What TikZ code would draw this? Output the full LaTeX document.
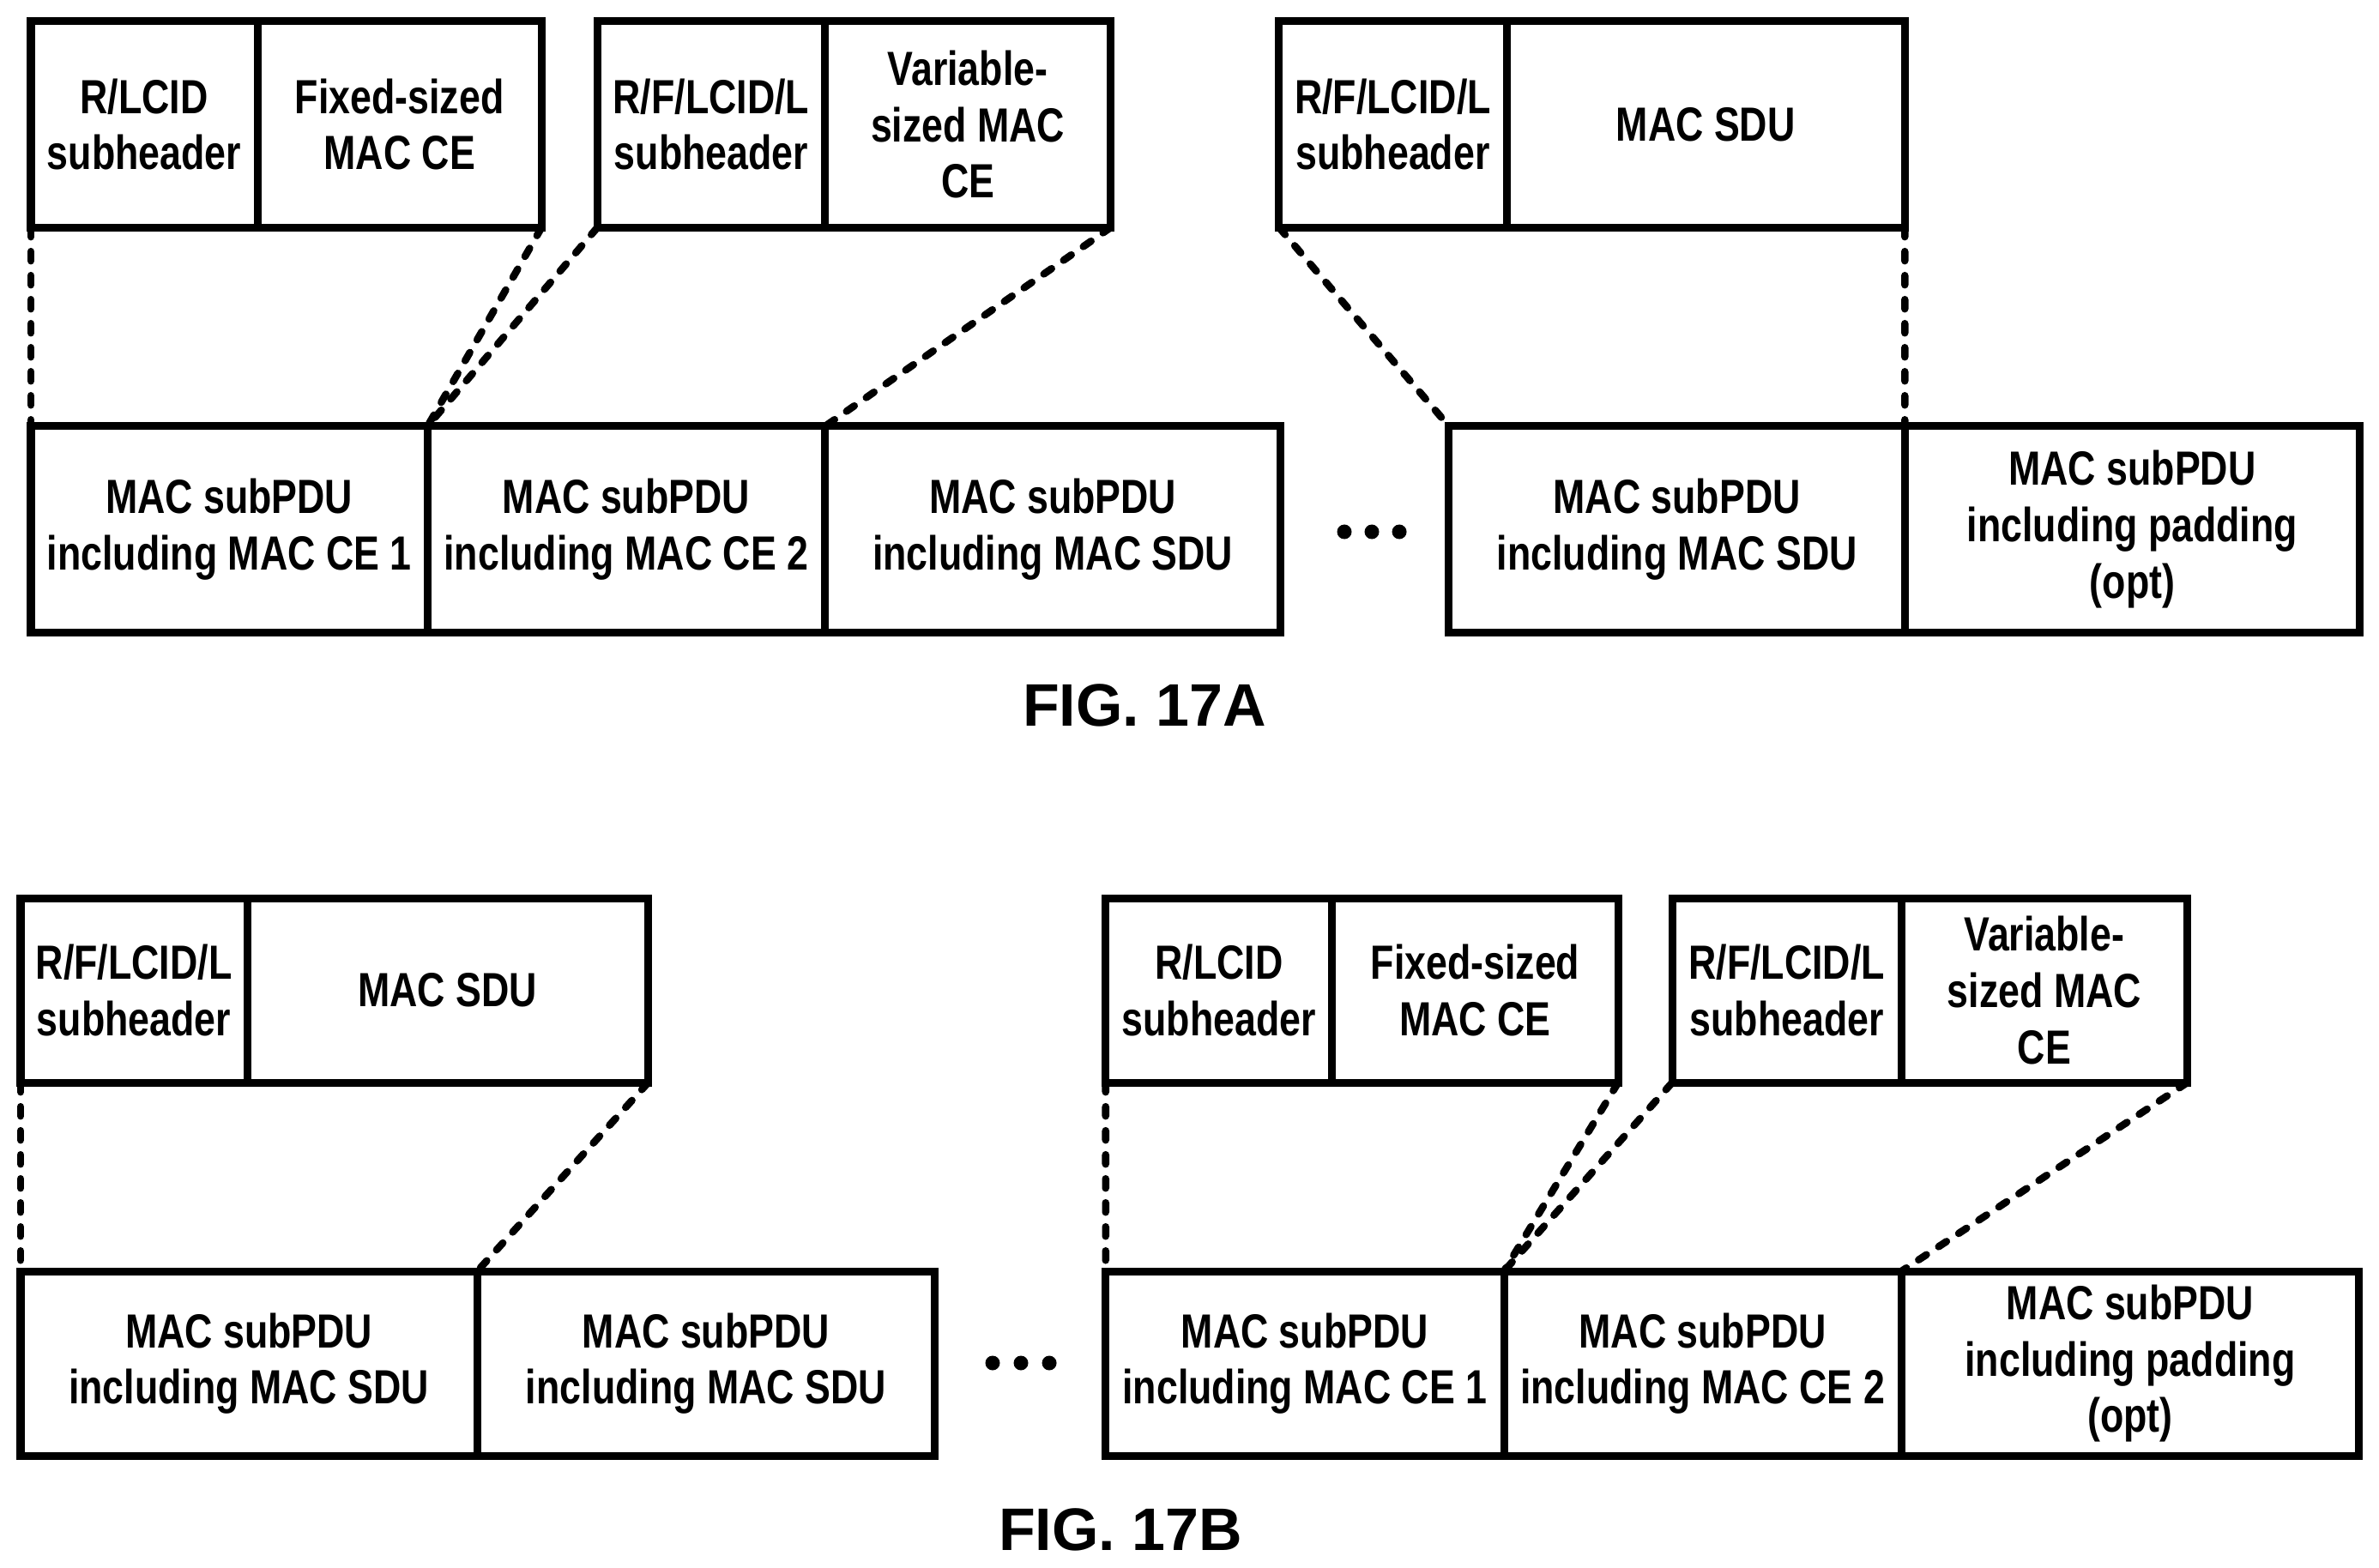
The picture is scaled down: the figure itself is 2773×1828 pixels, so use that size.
\documentclass[tikz,border=0pt]{standalone}
\usepackage{fontspec}
\setmainfont{Liberation Sans}
\newfontfamily\cellfont[FakeStretch=0.8,BoldFeatures={FakeStretch=0.8}]{Liberation Sans}
\usetikzlibrary{positioning}

\begin{document}
\begin{tikzpicture}[x=0.01cm,y=-0.01cm,node distance=0mm and 0mm,inner sep=0pt,outer sep=0pt]
\tikzstyle{cell}=[rectangle, draw=black, line width=0.09cm, align=center, font=\cellfont\bfseries\fontsize{15.9}{18.7}\selectfont]
\tikzstyle{tallcell}=[cell, minimum height=2.40cm]
\tikzstyle{lowcell}=[cell, minimum height=2.15cm]
\tikzstyle{link}=[draw=black, line width=0.085cm, line cap=round, dash pattern=on 0.11cm off 0.17cm]
\tikzstyle{dot}=[circle, fill=black, minimum size=0.17cm]
\tikzstyle{caption}=[font=\bfseries\fontsize{19.9}{23}\selectfont]
\useasboundingbox (0,0) rectangle (2773,1828);
% fig 17A, top row
\node[tallcell,minimum width=2.64cm,anchor=north west] (hdra1) at (36,25) {R/LCID\\subheader};
\node[tallcell,minimum width=3.31cm] (bodya1) [right=of hdra1] {Fixed-sized\\MAC CE};
\node[tallcell,minimum width=2.65cm] (hdra2) [right=0.65cm of bodya1] {R/F/LCID/L\\subheader};
\node[tallcell,minimum width=3.33cm] (bodya2) [right=of hdra2] {Variable-\\sized MAC\\CE};
\node[tallcell,minimum width=2.65cm] (hdra3) [right=1.96cm of bodya2] {R/F/LCID/L\\subheader};
\node[tallcell,minimum width=4.64cm] (bodya3) [right=of hdra3] {MAC SDU};
% fig 17A, bottom row
\node[tallcell,minimum width=4.62cm,anchor=north west] (suba1) at (36,497) {MAC subPDU\\including MAC CE 1};
\node[tallcell,minimum width=4.63cm] (suba2) [right=of suba1] {MAC subPDU\\including MAC CE 2};
\node[tallcell,minimum width=5.31cm] (suba3) [right=of suba2] {MAC subPDU\\including MAC SDU};
\node[tallcell,minimum width=5.31cm] (suba4) [right=1.96cm of suba3] {MAC subPDU\\including MAC SDU};
\node[tallcell,minimum width=5.30cm] (suba5) [right=of suba4] {MAC subPDU\\including padding\\(opt)};
\node[dot] (dota1) at (1567,620) {};
\node[dot] (dota2) [right=0.15cm of dota1] {};
\node[dot] (dota3) [right=0.15cm of dota2] {};
\path (hdra1.south west) edge[link] (suba1.north west);
\path (bodya1.south east) edge[link] (suba2.north west);
\path (hdra2.south west) edge[link] (suba2.north west);
\path (bodya2.south east) edge[link] (suba3.north west);
\path (hdra3.south west) edge[link] (suba4.north west);
\path (bodya3.south east) edge[link] (suba4.north east);
\node[caption] (capa) at (1334,822) {FIG. 17A};
% fig 17B, top row
\node[lowcell,minimum width=2.64cm,anchor=north west] (hdrb1) at (24,1047) {R/F/LCID/L\\subheader};
\node[lowcell,minimum width=4.67cm] (bodyb1) [right=of hdrb1] {MAC SDU};
\node[lowcell,minimum width=2.64cm] (hdrb2) [right=5.33cm of bodyb1] {R/LCID\\subheader};
\node[lowcell,minimum width=3.33cm] (bodyb2) [right=of hdrb2] {Fixed-sized\\MAC CE};
\node[lowcell,minimum width=2.67cm] (hdrb3) [right=0.63cm of bodyb2] {R/F/LCID/L\\subheader};
\node[lowcell,minimum width=3.33cm] (bodyb3) [right=of hdrb3] {Variable-\\sized MAC\\CE};
% fig 17B, bottom row
\node[lowcell,minimum width=5.32cm,anchor=north west] (subb1) at (24,1482) {MAC subPDU\\including MAC SDU};
\node[lowcell,minimum width=5.33cm] (subb2) [right=of subb1] {MAC subPDU\\including MAC SDU};
\node[lowcell,minimum width=4.64cm] (subb3) [right=1.99cm of subb2] {MAC subPDU\\including MAC CE 1};
\node[lowcell,minimum width=4.63cm] (subb4) [right=of subb3] {MAC subPDU\\including MAC CE 2};
\node[lowcell,minimum width=5.33cm] (subb5) [right=of subb4] {MAC subPDU\\including padding\\(opt)};
\node[dot] (dotb1) at (1157,1589) {};
\node[dot] (dotb2) [right=0.16cm of dotb1] {};
\node[dot] (dotb3) [right=0.16cm of dotb2] {};
\path (hdrb1.south west) edge[link] (subb1.north west);
\path (bodyb1.south east) edge[link] (subb1.north east);
\path (hdrb2.south west) edge[link] (subb3.north west);
\path (bodyb2.south east) edge[link] (subb4.north west);
\path (hdrb3.south west) edge[link] (subb4.north west);
\path (bodyb3.south east) edge[link] (subb5.north west);
\node[caption] (capb) at (1306,1783) {FIG. 17B};
\end{tikzpicture}
\end{document}
